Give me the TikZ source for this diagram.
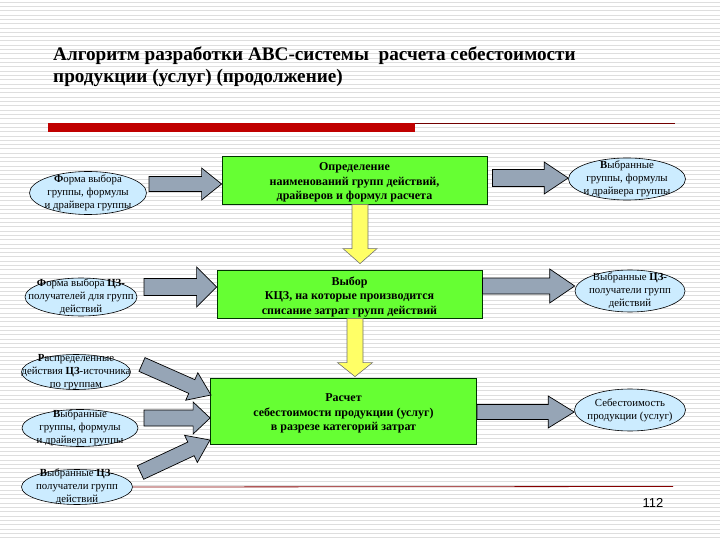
\documentclass[tikz,border=0pt]{standalone}
\usepackage{fontspec}
\setmainfont{Liberation Serif}
\newfontfamily\sansf{Liberation Sans}
\usetikzlibrary{calc,shapes.geometric}
\definecolor{boxgreen}{RGB}{102,255,51}
\definecolor{elblue}{RGB}{204,236,255}
\definecolor{arrgray}{RGB}{150,165,182}
\definecolor{arryel}{RGB}{255,255,102}
\definecolor{barred}{RGB}{192,0,0}
\definecolor{stripe}{RGB}{222,222,222}
\tikzset{
  greenbox/.style={draw=black!80!green, line width=0.8pt, fill=boxgreen},
  boxtext/.style={align=center, font=\fontsize{12}{14.5}\selectfont\bfseries, inner sep=0pt, yshift=-2.5pt},
  ell/.style={ellipse, draw=black, line width=0.6pt, fill=elblue, inner sep=0pt},
  elltext/.style={align=center, font=\fontsize{10.8}{13}\selectfont, inner sep=0pt},
  grayarr/.style={draw=black, line width=0.7pt, fill=arrgray},
  yelarr/.style={draw=black!55, line width=0.6pt, fill=arryel},
}
% #1 style, #2 start, #3 end, #4 shaft half width, #5 head half width, #6 head length
\newcommand\blockarrow[6]{%
  \coordinate (ba-s) at (#2);
  \coordinate (ba-e) at (#3);
  \coordinate (ba-h) at ($(ba-e)!#6!(ba-s)$);
  \draw[#1] ($(ba-s)!#4!90:(ba-e)$) -- ($(ba-h)!#4!90:(ba-e)$) -- ($(ba-h)!#5!90:(ba-e)$)
    -- (ba-e) -- ($(ba-h)!#5!-90:(ba-e)$) -- ($(ba-h)!#4!-90:(ba-e)$) -- ($(ba-s)!#4!-90:(ba-e)$) -- cycle;}
\begin{document}
\begin{tikzpicture}[x=1pt,y=-1pt]
\useasboundingbox (0,0) rectangle (720,540);
\fill[white] (0,0) rectangle (720,540);
\foreach \i in {0,...,124} {
  \draw[stripe, line width=0.8pt] (0,{2+\i*4.32}) -- (720,{2+\i*4.32});
}
% title
\node[anchor=base west, inner sep=0pt, font=\fontsize{19.2}{22}\selectfont\bfseries] (t1) at (53,61)
  {Алгоритм разработки АВС-системы\ \ расчета себестоимости};
\node[anchor=base west, inner sep=0pt, font=\fontsize{19.2}{22}\selectfont\bfseries] (t2) at (53,83)
  {продукции (услуг) (продолжение)};
% red bar and line
\fill[barred] (48,123) rectangle (415,132);
\draw[barred!60!black, line width=0.8pt] (415,123.5) -- (675,123.5);

% green boxes
\node[greenbox, minimum width=265pt, minimum height=48pt, inner sep=0pt] (B1) at (354.5,180) {};
\node[boxtext] at (B1) {Определение\\наименований групп действий,\\драйверов и формул расчета};
\node[greenbox, minimum width=265pt, minimum height=48pt, inner sep=0pt] (B2) at (349.5,294) {};
\node[boxtext] at (B2) {Выбор\\КЦЗ, на которые производится\\списание затрат групп действий};
\node[greenbox, minimum width=266pt, minimum height=66pt, inner sep=0pt] (B3) at (343.5,411) {};
\node[boxtext] at (B3) {Расчет\\себестоимости продукции (услуг)\\в разрезе категорий затрат};

% left ellipses
\node[ell, minimum width=117pt, minimum height=43pt] (L1) at (88,193) {};
\node[elltext] at (L1) {\textbf{Ф}орма выбора\\группы, формулы\\и драйвера группы};
\node[ell, minimum width=112pt, minimum height=38pt] (L2) at (81,297) {};
\node[elltext] at (L2) {\textbf{Ф}орма выбора \textbf{ЦЗ-}\\получателей для групп\\действий};
\node[ell, minimum width=109pt, minimum height=35pt] (L3) at (76,372) {};
\node[elltext] at (L3) {\textbf{Р}аспределенные\\действия \textbf{ЦЗ}-источника\\по группам};
\node[ell, minimum width=116pt, minimum height=37pt] (L4) at (80,428) {};
\node[elltext] at (L4) {\textbf{В}ыбранные\\группы, формулы\\и драйвера группы};
\node[ell, minimum width=111pt, minimum height=35pt] (L5) at (77,487) {};
\node[elltext] at (L5) {\textbf{В}ыбранные \textbf{ЦЗ-}\\получатели групп\\действий};

% right ellipses
\node[ell, minimum width=117pt, minimum height=42pt] (R1) at (627,179) {};
\node[elltext] at (R1) {\textbf{В}ыбранные\\группы, формулы\\и драйвера группы};
\node[ell, minimum width=110pt, minimum height=42pt] (R2) at (630,291) {};
\node[elltext] at (R2) {Выбранные \textbf{ЦЗ-}\\получатели групп\\действий};
\node[ell, minimum width=111pt, minimum height=42pt] (R3) at (630,410) {};
\node[elltext] at (R3) {Себестоимость\\продукции (услуг)};

% yellow arrows
\coordinate (y1s) at ($(B1.south)+(5.5,0)$);
\coordinate (y1e) at ($(B2.north)+(10.5,-6)$);
\blockarrow{yelarr}{y1s}{y1s |- y1e}{8pt}{17pt}{15pt}
\coordinate (y2s) at ($(B2.south)+(5.5,0)$);
\coordinate (y2e) at ($(B3.north)+(11.5,-1)$);
\blockarrow{yelarr}{y2s}{y2s |- y2e}{8pt}{17.5pt}{14pt}

% gray arrows left
\coordinate (a1s) at (149,184);
\blockarrow{grayarr}{a1s}{B1.west |- a1s}{7.5pt}{16pt}{20pt}
\coordinate (a2s) at (144,287);
\blockarrow{grayarr}{a2s}{B2.west |- a2s}{8.5pt}{20pt}{20pt}
% right arrows
\coordinate (b1s) at ($(B1.east |- 0,178)+(5,0)$);
\blockarrow{grayarr}{b1s}{R1.west |- b1s}{8.5pt}{16pt}{24pt}
\coordinate (b2s) at (B2.east |- 0,286);
\blockarrow{grayarr}{b2s}{R2.west |- b2s}{8pt}{17pt}{25pt}
\coordinate (b3s) at (B3.east |- 0,412);
\blockarrow{grayarr}{b3s}{R3.west |- b3s}{7.5pt}{16pt}{26pt}
% bottom-left converging arrows
\coordinate (c1s) at (142,364.5);
\coordinate (c1e) at (211,395);
\blockarrow{grayarr}{c1s}{c1e}{7.5pt}{15pt}{21pt}
\coordinate (c3s) at (140.5,472.5);
\coordinate (c3e) at (210,440);
\blockarrow{grayarr}{c3s}{c3e}{7.5pt}{15pt}{21pt}
\coordinate (c2s) at (144,418);
\blockarrow{grayarr}{c2s}{B3.west |- c2s}{8pt}{16pt}{17pt}

% bottom line and page number
\draw[barred!70!black, line width=0.8pt] (L5.east) -- (673,486.5);
\node[anchor=base, inner sep=0pt, font=\sansf\fontsize{13}{15}\selectfont] (pg) at (653,507) {112};
\end{tikzpicture}
\end{document}
